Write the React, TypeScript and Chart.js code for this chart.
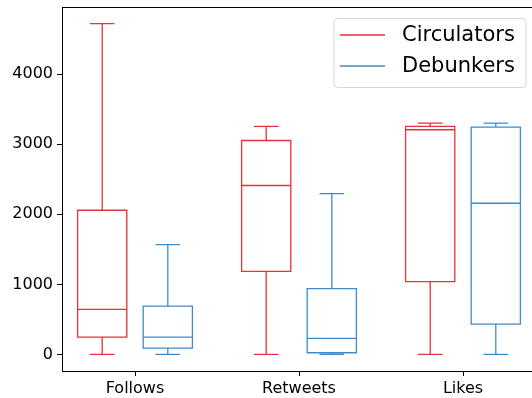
import React, { useEffect, useRef } from "react";
import { Chart, registerables } from "chart.js";

Chart.register(...registerables);

const categories = ["Follows", "Retweets", "Likes"];
const seriesNames = ["Circulators", "Debunkers"];
const seriesColors = ["#e6323a", "#3f8bc9"];

const circWhiskerLow = [0, 0, 0];
const circQ1 = [247, 1186, 1038];
const circMedian = [643, 2410, 3205];
const circQ3 = [2057, 3052, 3252];
const circWhiskerHigh = [4720, 3252, 3300];

const debWhiskerLow = [0, 0, 0];
const debQ1 = [90, 24, 433];
const debMedian = [247, 229, 2157];
const debQ3 = [690, 938, 3243];
const debWhiskerHigh = [1567, 2295, 3300];

const yTicks = [0, 1000, 2000, 3000, 4000];

const series = [
  { low: circWhiskerLow, q1: circQ1, med: circMedian, q3: circQ3, high: circWhiskerHigh },
  { low: debWhiskerLow, q1: debQ1, med: debMedian, q3: debQ3, high: debWhiskerHigh },
];

const offsets = [-0.2, 0.2];
const boxWidth = 0.3;
const FONT = "'DejaVu Sans', sans-serif";

const boxPlugin = {
  id: "boxPlugin",
  afterDatasetsDraw(chart: any) {
    const { ctx, chartArea, scales } = chart;
    const xs = scales.x;
    const ys = scales.y;
    ctx.save();
    // top spine
    ctx.strokeStyle = "#000";
    ctx.lineWidth = 1;
    ctx.beginPath();
    ctx.moveTo(chartArea.left, chartArea.top + 0.5);
    ctx.lineTo(chartArea.right, chartArea.top + 0.5);
    ctx.stroke();

    ctx.lineWidth = 1.3;
    series.forEach((s, si) => {
      ctx.strokeStyle = seriesColors[si];
      categories.forEach((_, ci) => {
        const c = ci + 1 + offsets[si];
        const xl = xs.getPixelForValue(c - boxWidth / 2);
        const xr = xs.getPixelForValue(c + boxWidth / 2);
        const xc = xs.getPixelForValue(c);
        const cl = xs.getPixelForValue(c - boxWidth / 4);
        const cr = xs.getPixelForValue(c + boxWidth / 4);
        const yLow = ys.getPixelForValue(s.low[ci]);
        const yQ1 = ys.getPixelForValue(s.q1[ci]);
        const yMed = ys.getPixelForValue(s.med[ci]);
        const yQ3 = ys.getPixelForValue(s.q3[ci]);
        const yHigh = ys.getPixelForValue(s.high[ci]);
        ctx.beginPath();
        ctx.rect(xl, yQ3, xr - xl, yQ1 - yQ3);
        ctx.moveTo(xl, yMed);
        ctx.lineTo(xr, yMed);
        ctx.moveTo(xc, yQ1);
        ctx.lineTo(xc, yLow);
        ctx.moveTo(xc, yQ3);
        ctx.lineTo(xc, yHigh);
        ctx.moveTo(cl, yLow);
        ctx.lineTo(cr, yLow);
        ctx.moveTo(cl, yHigh);
        ctx.lineTo(cr, yHigh);
        ctx.stroke();
      });
    });

    // legend
    const lx = 334;
    const ly = 18.5;
    const lw = 192;
    const lh = 69;
    ctx.beginPath();
    ctx.roundRect(lx, ly, lw, lh, 4);
    ctx.fillStyle = "rgba(255,255,255,0.8)";
    ctx.fill();
    ctx.strokeStyle = "#d6d6d6";
    ctx.lineWidth = 1;
    ctx.stroke();
    ctx.font = `21px ${FONT}`;
    ctx.textBaseline = "middle";
    ctx.textAlign = "left";
    seriesNames.forEach((name, i) => {
      const yy = 35 + i * 31;
      ctx.strokeStyle = seriesColors[i];
      ctx.lineWidth = 1.3;
      ctx.beginPath();
      ctx.moveTo(340, yy);
      ctx.lineTo(385, yy);
      ctx.stroke();
      ctx.fillStyle = "#000";
      ctx.fillText(name, 402, yy + 1);
    });
    ctx.restore();
  },
};

export default function App() {
  const ref = useRef<HTMLCanvasElement>(null);
  useEffect(() => {
    if (!ref.current) return;
    const chart = new Chart(ref.current, {
      type: "scatter",
      data: {
        datasets: seriesNames.map((n, i) => ({
          label: n,
          data: [],
          borderColor: seriesColors[i],
          backgroundColor: seriesColors[i],
        })),
      },
      options: {
        animation: false,
        responsive: false,
        devicePixelRatio: 1,
        layout: { padding: { top: 7, right: 8, left: 0, bottom: 0 } },
        plugins: { legend: { display: false }, tooltip: { enabled: false } },
        scales: {
          x: {
            type: "linear",
            min: 1 - 73 / 164,
            max: 3 + 74 / 164,
            afterBuildTicks: (axis: any) => {
              axis.ticks = [1, 2, 3].map((v) => ({ value: v }));
            },
            afterFit: (axis: any) => {
              axis.height = 27;
              axis.paddingLeft = 0;
              axis.paddingRight = 0;
            },
            ticks: {
              autoSkip: false,
              maxRotation: 0,
              padding: 3,
              color: "#000",
              font: { family: FONT, size: 16 },
              callback: (v: any) => categories[Number(v) - 1] ?? "",
            },
            grid: {
              drawOnChartArea: false,
              drawTicks: true,
              tickLength: 5,
              color: "#000",
            },
            border: { display: true, color: "#000", width: 1 },
          },
          y: {
            type: "linear",
            min: -236,
            max: 4956,
            afterBuildTicks: (axis: any) => {
              axis.ticks = yTicks.map((v) => ({ value: v }));
            },
            afterFit: (axis: any) => {
              axis.width = 62;
              axis.paddingTop = 0;
              axis.paddingBottom = 0;
            },
            ticks: {
              padding: 4,
              color: "#000",
              font: { family: FONT, size: 16 },
              callback: (v: any) => String(v),
            },
            grid: {
              drawOnChartArea: false,
              drawTicks: true,
              tickLength: 5,
              color: "#000",
            },
            border: { display: true, color: "#000", width: 1 },
          },
        },
      },
      plugins: [boxPlugin],
    });
    return () => chart.destroy();
  }, []);
  return (
    <div style={{ position: "fixed", left: 0, top: 0, width: 532, height: 398, overflow: "hidden", background: "#fff" }}>
      <canvas ref={ref} width={545} height={398} style={{ display: "block" }} />
    </div>
  );
}
